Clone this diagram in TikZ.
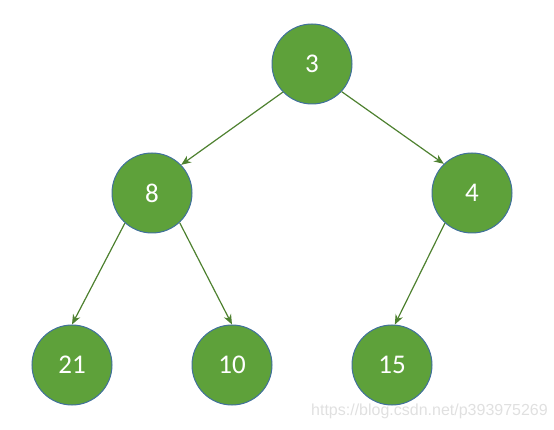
\documentclass[tikz,border=0pt]{standalone}
\usepackage{fontspec}
\usetikzlibrary{arrows.meta}
\setmainfont{Carlito}
\newfontfamily\markfont{Liberation Sans}
\definecolor{leaf}{HTML}{5EA13A}
\definecolor{rim}{HTML}{41719C}
\definecolor{edgegreen}{HTML}{4E8130}
\begin{document}
\begin{tikzpicture}[x=1pt,y=-1pt,
    heapnode/.style={circle,minimum size=80pt,inner sep=0pt,fill=leaf,
      draw=rim,line width=1pt,text=white,font=\fontsize{27}{27}\selectfont},
    heapedge/.style={-{Stealth[length=10pt,width=8pt]},draw=edgegreen,
      line width=1.2pt}]
  \useasboundingbox (0,0) rectangle (554,430);
  % Root and the two children below it.
  \node[heapnode] (n3) at (312,64) {3};
  \node[heapnode] (n8) at (152,193) {8};
  \node[heapnode] (n4) at (472,193) {4};
  % Bottom row.
  \node[heapnode] (n21) at (72,365) {21};
  \node[heapnode] (n10) at (232,365) {10};
  \node[heapnode] (n15) at (392,365) {15};
  % Parent to child links.
  \draw[heapedge] (n3.224) -- (n8.44);
  \draw[heapedge] (n3.317) -- (n4.134);
  \draw[heapedge] (n8.228) -- (n21.north);
  \draw[heapedge] (n8.313) -- (n10.north);
  \draw[heapedge] (n4.228) -- (n15.86);
  % Source mark in the corner.
  \node[anchor=south east,text=black!12,font=\markfont\fontsize{16}{16}\selectfont,
    inner sep=0pt] (mark) at (548,419) {https://blog.csdn.net/p393975269};
\end{tikzpicture}
\end{document}
